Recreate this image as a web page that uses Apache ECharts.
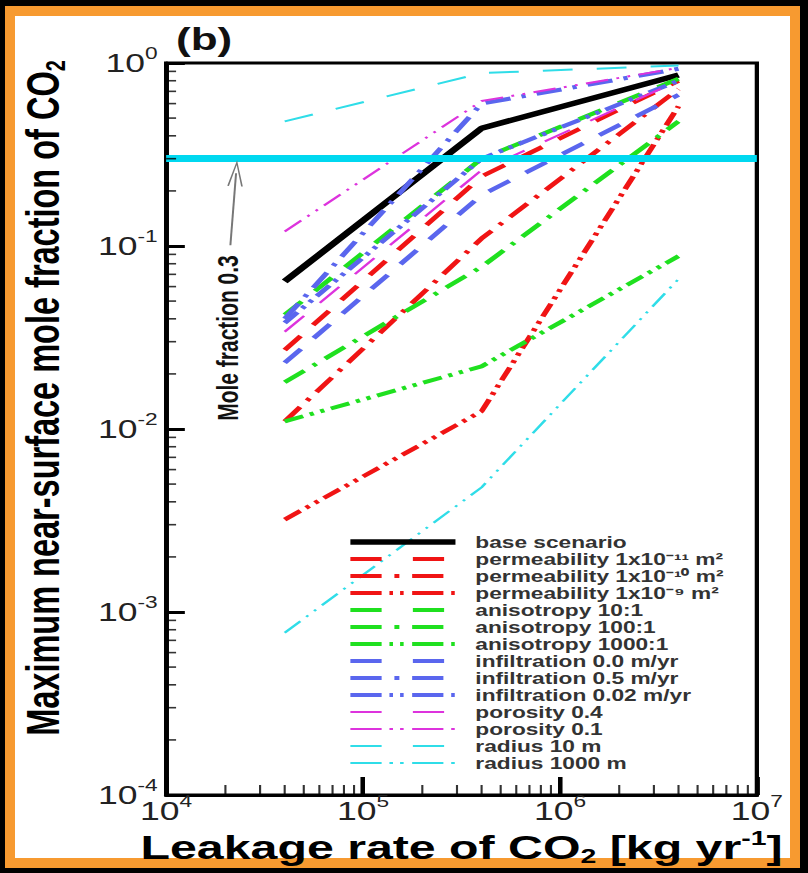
<!DOCTYPE html>
<html><head><meta charset="utf-8">
<script src="https://cdn.jsdelivr.net/npm/echarts@6/dist/echarts.min.js"></script>
<style>
html,body{margin:0;padding:0;background:#000;width:808px;height:873px;overflow:hidden}
#frame{position:absolute;left:5px;top:6px;width:775px;height:842px;border:10px solid #f79a30;background:#fff}
#chart,#ticks{position:absolute;left:0;top:0;width:569px;height:873px;transform:scaleX(1.42);transform-origin:0 0}
#ticks{pointer-events:none}
</style></head><body>
<div id="frame"></div><div id="chart"></div><div id="ticks"></div>
<script>
// ---- data ----
const leakageRates = [4e4, 4e5, 4e6];
const baseScenario      = [0.064, 0.44, 0.86];
const permeability1e11  = [0.027, 0.24, 0.80];
const permeability1e10  = [0.011, 0.11, 0.72];
const permeability1e9   = [0.0032, 0.0125, 0.58];
const anisotropy10      = [0.042, 0.30, 0.82];
const anisotropy100     = [0.018, 0.077, 0.48];
const anisotropy1000    = [0.011, 0.022, 0.088];
const infiltration00    = [0.023, 0.19, 0.67];
const infiltration05    = [0.040, 0.60, 0.93];
const infiltration002   = [0.038, 0.30, 0.80];
const porosity04        = [0.034, 0.26, 0.80];
const porosity01        = [0.12, 0.62, 0.94];
const radius10          = [0.48, 0.88, 0.97];
const radius1000        = [0.00077, 0.0048, 0.066];
const thresholdFraction = 0.3;
const arrowTail = [21200, 0.101];
const arrowHead = [22650, 0.25];

const seriesNames = ['base scenario','permeability 1x10⁻¹¹ m²','permeability 1x10⁻¹⁰ m²','permeability 1x10⁻⁹ m²',
  'anisotropy 10:1','anisotropy 100:1','anisotropy 1000:1',
  'infiltration 0.0 m/yr','infiltration 0.5 m/yr','infiltration 0.02 m/yr',
  'porosity 0.4','porosity 0.1','radius 10 m','radius 1000 m'];
const seriesValues = [baseScenario, permeability1e11, permeability1e10, permeability1e9,
  anisotropy10, anisotropy100, anisotropy1000, infiltration00, infiltration05, infiltration002,
  porosity04, porosity01, radius10, radius1000];

const minorMultipliers = [2,3,4,5,6,7,8,9];
const xMinorDecades = [1e4, 1e5, 1e6];
const yMinorDecades = [1e-4, 1e-3, 1e-2, 1e-1];

// ---- styles ----
const RED='#f01414', GREEN='#1fe01f', BLUE='#5a66ee', MAG='#dd33dd', CYAN='#2fdde8';
const plotDash = {solid:'solid', dash:[18,14], dashDot:[18,8,3,8], dashDotDot:[14,5,3,5,3,5],
                  thinDash:[21,17], thinDashDotDot:[16,6,2,6,2,6]};
const legendDash = {solid:'solid', dash:[22,22], dashDot:[22,9,3.5,9], dashDotDot:[22,5.5,2.5,5,2.5,6],
                    thinDash:[22,22], thinDashDotDot:[22,5.5,2.5,5,2.5,6]};
const looks = [
  {c:'#000', w:5.5, p:'solid'},
  {c:RED, w:4, p:'dash'},{c:RED, w:4, p:'dashDot'},{c:RED, w:4, p:'dashDotDot'},
  {c:GREEN, w:4, p:'dash'},{c:GREEN, w:4, p:'dashDot'},{c:GREEN, w:4, p:'dashDotDot'},
  {c:BLUE, w:4, p:'dash'},{c:BLUE, w:4, p:'dashDot'},{c:BLUE, w:4, p:'dashDotDot'},
  {c:MAG, w:2, p:'thinDash'},{c:MAG, w:2, p:'thinDashDotDot'},
  {c:CYAN, w:2, p:'thinDash'},{c:CYAN, w:2, p:'thinDashDotDot'}
];

const FONT = "'Liberation Sans', Arial, Helvetica, sans-serif";
const expLabel = v => '{b|10}{s|' + Math.round(Math.log10(v)) + '}';
const GRID = {left:117, right:36, top:63, bottom:78};

const series = seriesNames.map((name, i) => ({
  name, type:'line', symbol:'none',
  data: leakageRates.map((x, k) => [x, seriesValues[i][k]]),
  lineStyle:{color:looks[i].c, width:looks[i].w, type:plotDash[looks[i].p], cap:'butt'},
  itemStyle:{color:looks[i].c}
}));

// threshold line and arrow
series.push({
  type:'line', name:'threshold', data:[],
  markLine:{
    silent:true, symbol:'none', animation:false,
    label:{show:false},
    data:[
      {yAxis:thresholdFraction, lineStyle:{color:'#00d8f0', width:7, type:'solid'}},
      [{coord:arrowTail, symbol:'none', lineStyle:{color:'#777', width:1.4, type:'solid'}},
       {coord:arrowHead, symbol:'path://M6,0 L0,14 L1.3,14 L6,2.6 L10.7,14 L12,14 Z', symbolSize:[11,26],
        itemStyle:{color:'#777'}, lineStyle:{color:'#777', width:1.4, type:'solid'}}]
    ]
  }
});

const richTicks = {
  b:{fontSize:25, color:'#222', fontFamily:FONT},
  s:{fontSize:16, color:'#222', fontFamily:FONT, padding:[0,0,20,0]}
};

const option = {
  animation:false,
  backgroundColor:'transparent',
  title:{text:'(b)', left:119, top:19, textStyle:{fontSize:31, fontWeight:'bold', color:'#111', fontFamily:FONT}},
  grid:Object.assign({show:true, borderColor:'#000', borderWidth:3, backgroundColor:'transparent'}, GRID),
  legend:{
    orient:'vertical', left:244, top:534, padding:0,
    itemWidth:74, itemHeight:14, itemGap:1,
    selectedMode:false,
    itemStyle:{opacity:0},
    lineStyle:{width:'inherit', opacity:1},
    textStyle:{fontSize:16, fontWeight:'bold', color:'#333', fontFamily:FONT, lineHeight:16, padding:[0,0,0,9]},
    data: seriesNames.map((n, i) => ({name:n, lineStyle:{type:legendDash[looks[i].p], width:looks[i].w}}))
  },
  xAxis:{
    type:'log', min:1e4, max:1e7,
    axisLine:{show:true, lineStyle:{color:'#000', width:3}},
    axisTick:{show:true, inside:true, length:18, lineStyle:{color:'#000', width:3}},
    splitLine:{show:false},
    axisLabel:{formatter:expLabel, rich:richTicks, margin:-2},
    name:'Leakage rate of CO{sub|2} [kg yr{sup|-1}]', nameLocation:'middle', nameGap:22,
    nameTextStyle:{fontSize:34, fontWeight:'bold', color:'#000', fontFamily:FONT,
      rich:{sub:{fontSize:20, fontWeight:'bold', fontFamily:FONT, color:'#000', padding:[18,0,0,0]},
            sup:{fontSize:20, fontWeight:'bold', fontFamily:FONT, color:'#000', padding:[0,0,18,0]}}}
  },
  yAxis:{
    type:'log', min:1e-4, max:1,
    axisLine:{show:true, lineStyle:{color:'#000', width:3}},
    axisTick:{show:true, inside:true, length:13, lineStyle:{color:'#000', width:3}},
    splitLine:{show:false},
    axisLabel:{formatter:expLabel, rich:richTicks, margin:6},
    name:'Maximum near-surface mole fraction of CO{sub|2}', nameLocation:'middle', nameRotate:90, nameGap:68,
    nameTextStyle:{fontSize:32.5, fontWeight:'bold', color:'#000', fontFamily:FONT, padding:[0,0,0,62],
      rich:{sub:{fontSize:20, fontWeight:'bold', fontFamily:FONT, color:'#000', padding:[18,0,0,0]}}}
  },
  graphic:[{
    type:'text', x:160.6, y:338, rotation:Math.PI/2, silent:true,
    style:{text:'Mole fraction 0.3', fontSize:21, fontWeight:'bold', fill:'#111', fontFamily:FONT, align:'center', verticalAlign:'middle'}
  }],
  series
};
const chart = echarts.init(document.getElementById('chart'), null, {renderer:'svg'});
chart.setOption(option);

// ---- tick layer: same grid and log scales, only ticks ----
const xMinorTicks = [], yMinorTicks = [];
xMinorDecades.forEach(d => minorMultipliers.forEach(m => xMinorTicks.push([d*m, 1e-4])));
yMinorDecades.forEach(d => minorMultipliers.forEach(m => yMinorTicks.push([1e4, d*m])));
const tickOption = {
  animation:false,
  backgroundColor:'transparent',
  grid:Object.assign({show:false}, GRID),
  xAxis:{type:'log', min:1e4, max:1e7, axisLine:{show:false}, axisLabel:{show:false}, splitLine:{show:false},
    axisTick:{show:true, inside:true, length:18, lineStyle:{color:'#000', width:3}}},
  yAxis:{type:'log', min:1e-4, max:1, axisLine:{show:false}, axisLabel:{show:false}, splitLine:{show:false},
    axisTick:{show:true, inside:true, length:13, lineStyle:{color:'#000', width:3}}},
  series:[
    {type:'scatter', name:'x minor ticks', data:xMinorTicks, symbol:'rect', silent:true,
     symbolSize:[1.5, 10], symbolOffset:[0, -5], itemStyle:{color:'#000'}},
    {type:'scatter', name:'y minor ticks', data:yMinorTicks, symbol:'rect', silent:true,
     symbolSize:[7, 1.6], symbolOffset:[3.5, 0], itemStyle:{color:'#000'}}
  ]
};
const tickChart = echarts.init(document.getElementById('ticks'), null, {renderer:'svg'});
tickChart.setOption(tickOption);
</script>
</body></html>
